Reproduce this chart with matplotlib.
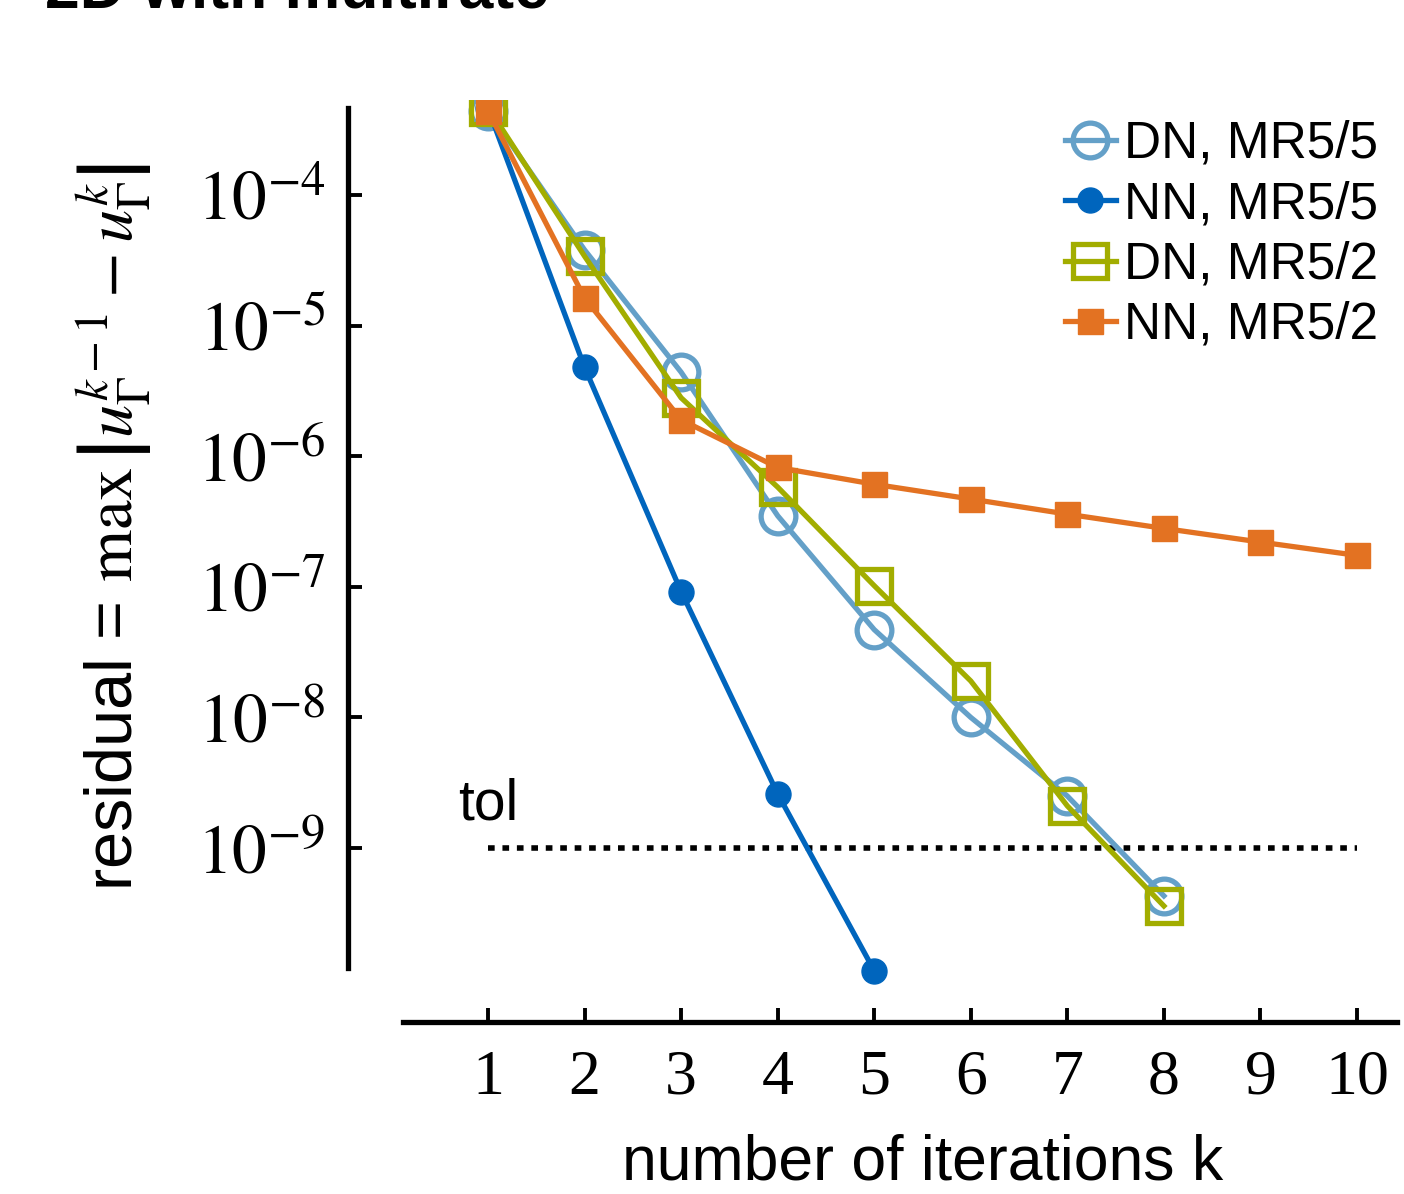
import numpy as np
import matplotlib
matplotlib.use("Agg")
import matplotlib.pyplot as plt
from matplotlib.ticker import NullLocator, FixedLocator

# ---------------- data ----------------
k_all = [1, 2, 3, 4, 5, 6, 7, 8, 9, 10]
k_dn55 = [1, 2, 3, 4, 5, 6, 7, 8]
res_dn55 = [4.4e-4, 3.8e-5, 4.4e-6, 3.5e-7, 4.7e-8, 1.0e-8, 2.5e-9, 4.3e-10]
k_nn55 = [1, 2, 3, 4, 5]
res_nn55 = [4.6e-4, 4.8e-6, 9.2e-8, 2.6e-9, 1.15e-10]
k_dn52 = [1, 2, 3, 4, 5, 6, 7, 8]
res_dn52 = [4.7e-4, 3.4e-5, 2.8e-6, 5.8e-7, 1.02e-7, 1.9e-8, 2.1e-9, 3.6e-10]
k_nn52 = [1, 2, 3, 4, 5, 6, 7, 8, 9, 10]
res_nn52 = [4.4e-4, 1.63e-5, 1.9e-6, 8.2e-7, 6.1e-7, 4.7e-7, 3.6e-7, 2.8e-7, 2.2e-7, 1.74e-7]
tol = 1e-9
labels = ["DN, MR5/5", "NN, MR5/5", "DN, MR5/2", "NN, MR5/2"]
xticks = [1, 2, 3, 4, 5, 6, 7, 8, 9, 10]
yticks = [1e-4, 1e-5, 1e-6, 1e-7, 1e-8, 1e-9]

c_lblue = "#64A0C8"
c_blue = "#0065BD"
c_green = "#A2AD00"
c_orange = "#E37222"

plt.rcParams['font.family'] = ['Liberation Sans', 'DejaVu Sans']
plt.rcParams['mathtext.fontset'] = 'stix'

W, H = 1404, 1194
fig = plt.figure(figsize=(W / 100, H / 100), dpi=100)
ax = fig.add_axes([403 / W, 1 - 1022 / H, (1397 - 403) / W, (1022 - 100) / H])
ax.set_yscale('log')

lw = 3.8
ax.plot(k_dn55, res_dn55, '-o', color=c_lblue, lw=lw, ms=25, mfc='none', mew=3.8, label=labels[0], zorder=3)
ax.plot(k_nn55, res_nn55, '-o', color=c_blue, lw=lw, ms=18, label=labels[1], zorder=3)
ax.plot(k_dn52, res_dn52, '-s', color=c_green, lw=lw, ms=24, mfc='none', mew=3.8, label=labels[2], zorder=4)
ax.plot(k_nn52, res_nn52, '-s', color=c_orange, lw=lw, ms=18, label=labels[3], zorder=5)

ax.plot([k_all[0], k_all[-1]], [tol, tol], color='black', lw=4.0, linestyle=(0, (1.2, 1.4)), zorder=2)
ax.text(1, tol * 10 ** 0.13, 'tol', fontsize=41, ha='center', va='bottom')

# limits
lx0 = 1 - 85 / 96.56
lx1 = 10 + 40 / 96.56
ax.set_xlim(lx0, lx1)
ly0 = -4 - (1022 - 195) / 130.6
ly1 = -4 + 95 / 130.6
ax.set_ylim(10 ** ly0, 10 ** ly1)

# spines
for s in ['top', 'right']:
    ax.spines[s].set_visible(False)
ax.spines['left'].set_position(('outward', 55 / 1.3889))
ax.spines['left'].set_bounds(10 ** (-4 - (968 - 195) / 130.6), 10 ** (-4 + (195 - 108) / 130.6))
ax.spines['left'].set_linewidth(3.8)
ax.spines['bottom'].set_linewidth(3.8)

ax.xaxis.set_major_locator(FixedLocator(xticks))
ax.set_xticklabels([str(t) for t in xticks], fontfamily='Liberation Serif', fontsize=46)
ax.yaxis.set_major_locator(FixedLocator(yticks))
ax.yaxis.set_minor_locator(NullLocator())
ax.set_yticklabels([r'$10^{%d}$' % int(np.log10(v)) for v in yticks], fontsize=50)
ax.tick_params(axis='both', direction='in', length=10, width=2.8)
ax.tick_params(axis='x', pad=20)
ax.tick_params(axis='y', pad=16)

ax.set_xlabel('number of iterations k', fontsize=45)
ax.xaxis.set_label_coords(923 / W, 1 - 1134 / H, transform=fig.transFigure)
ax.set_ylabel(r'residual = $\max\,\left|u_\Gamma^{k-1} - u_\Gamma^{k}\right|$', fontsize=48)
ax.yaxis.set_label_coords(114 / W, 1 - 527 / H, transform=fig.transFigure)
ax.yaxis.label.set_va('center')

leg = ax.legend(loc='upper right', bbox_to_anchor=(1378 / W, 1 - 120 / H),
                bbox_transform=fig.transFigure, frameon=False, fontsize=37,
                handlelength=1.0, handletextpad=0.15, labelspacing=0.22,
                borderpad=0, borderaxespad=0, markerscale=1.0)

fig.text(45 / W, 1 - 8 / H, '2D with multirate', fontsize=45, fontweight='bold',
         ha='left', va='baseline')

fig.savefig('out.png', dpi=100)
